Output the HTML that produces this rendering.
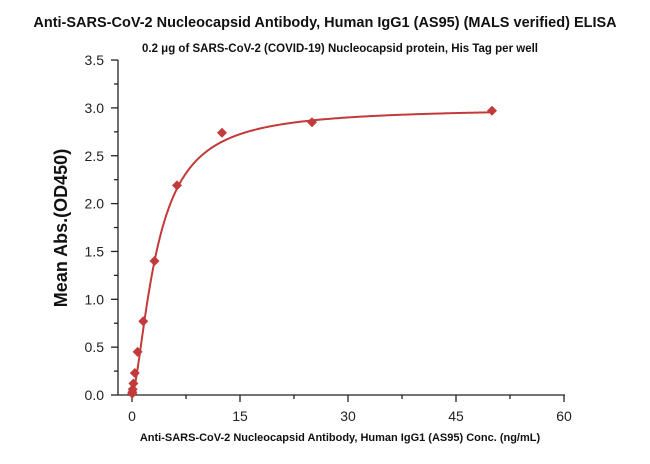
<!DOCTYPE html>
<html><head><meta charset="utf-8"><style>
body{margin:0;background:#fff;}
svg{display:block;font-family:"Liberation Sans",sans-serif;}
</style></head><body>
<svg id="s" width="650" height="464" viewBox="0 0 650 464">
<text x="325" y="27" text-anchor="middle" font-size="14.5" font-weight="bold" fill="#111">Anti-SARS-CoV-2 Nucleocapsid Antibody, Human IgG1 (AS95) (MALS verified) ELISA</text>
<text x="340" y="52" text-anchor="middle" font-size="11.5" font-weight="bold" fill="#111">0.2 μg of SARS-CoV-2 (COVID-19) Nucleocapsid protein, His Tag per well</text>
<text transform="translate(67,228) rotate(-90)" text-anchor="middle" font-size="18" font-weight="bold" fill="#111">Mean Abs.(OD450)</text>
<text x="340" y="441" text-anchor="middle" font-size="11" font-weight="bold" fill="#111">Anti-SARS-CoV-2 Nucleocapsid Antibody, Human IgG1 (AS95) Conc. (ng/mL)</text>
<g id="ax" stroke="#222" stroke-width="1.3" fill="none"></g>
<g id="lab" font-size="14" fill="#222"></g>
<path id="curve" fill="none" stroke="#c23a3a" stroke-width="2"/>
<g id="pts" fill="#c23a3a"></g>
</svg>
<script>
var X0=132,KX=7.2,Y0=395,KY=95.7;
function px(x){return X0+KX*x}function py(y){return Y0-KY*y}
var ax=document.getElementById('ax'),lab=document.getElementById('lab'),ns='http://www.w3.org/2000/svg';
function el(p,t,a,txt){var e=document.createElementNS(ns,t);for(var k in a)e.setAttribute(k,a[k]);if(txt!=null)e.textContent=txt;p.appendChild(e);return e;}
el(ax,'line',{x1:118,y1:60,x2:118,y2:395});
el(ax,'line',{x1:118,y1:395,x2:565,y2:395});
for(var i=0;i<=14;i++){var y=py(i*0.25);var big=i%2==0;el(ax,'line',{x1:big?111:114,y1:y,x2:118,y2:y});
if(big)el(lab,'text',{x:104,y:y+5,'text-anchor':'end'},(i*0.25).toFixed(1));}
for(var i=0;i<=8;i++){var x=px(i*7.5);var big=i%2==0;el(ax,'line',{x1:x,y1:395,x2:x,y2:big?402:399});
if(big)el(lab,'text',{x:x,y:421,'text-anchor':'middle'},String(i*7.5));}
var A=3.0,c=3.41,n=1.55;function f(x){var r=Math.pow(x/c,n);return A*r/(1+r);}
var d='';for(var i=0;i<=400;i++){var x=50*Math.pow(i/400,2);d+=(i?'L':'M')+px(x).toFixed(2)+','+py(f(x)).toFixed(2);}
document.getElementById('curve').setAttribute('d',d);
var data=[[50,2.97],[25,2.85],[12.5,2.74],[6.25,2.19],[3.125,1.40],[1.5625,0.77],[0.78,0.45],[0.39,0.23],[0.195,0.12],[0.098,0.06],[0.049,0.03],[0.024,0.015]];
var g=document.getElementById('pts');data.forEach(function(p){var x=px(p[0]),y=py(p[1]);
el(g,'path',{d:'M'+x+','+(y-5)+'L'+(x+5)+','+y+'L'+x+','+(y+5)+'L'+(x-5)+','+y+'Z'});});
</script>
</body></html>
